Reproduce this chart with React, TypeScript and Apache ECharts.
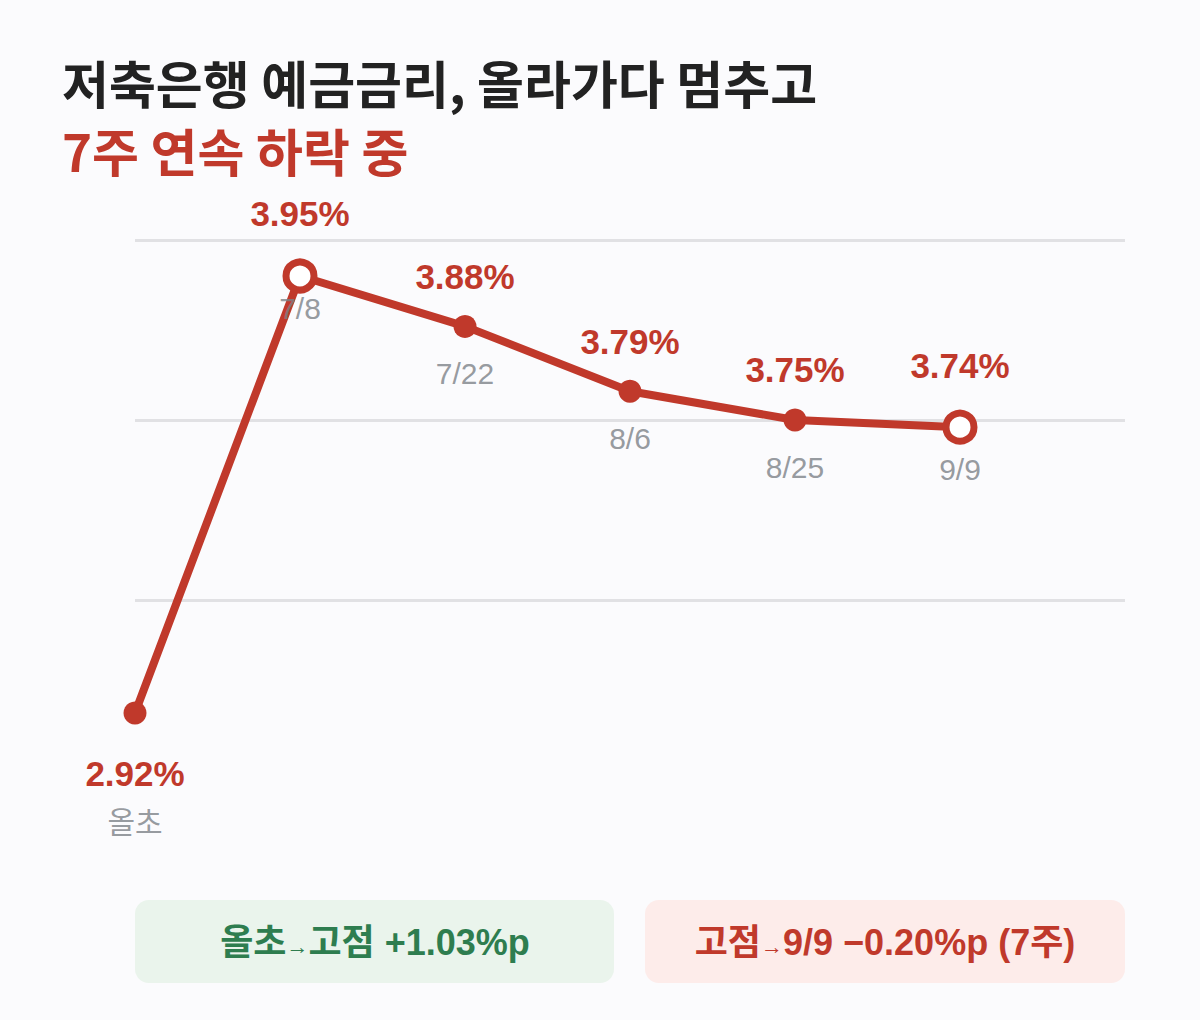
import React, { useEffect, useRef } from "react";
import * as echarts from "echarts";

const categories = ["올초", "7/8", "7/22", "8/6", "8/25", "9/9"];
const rates = [2.92, 3.95, 3.88, 3.79, 3.75, 3.74];
const gridValues = [4.0, 3.75, 3.5];
const titleLine1 = "저축은행 예금금리, 올라가다 멈추고";
const titleLine2 = "7주 연속 하락 중";
const boxLeft = ["올초", "→", "고점 +1.03%p"];
const boxRight = ["고점", "→", "9/9 −0.20%p (7주)"];

const RED = "#c0392b";
const GREEN = "#2e7d4f";
const GRAY = "#7b8187";
const KR = "'Noto Sans CJK KR', 'Liberation Sans', sans-serif";
const NUM = "'Liberation Sans', Arial, 'Noto Sans CJK KR', sans-serif";

export default function App() {
  const ref = useRef<HTMLDivElement>(null);
  useEffect(() => {
    if (!ref.current) return;
    const chart = echarts.init(ref.current, null, { renderer: "svg" });
    const maxIdx = rates.indexOf(Math.max(...rates));
    const lastIdx = rates.length - 1;
    const minIdx = rates.indexOf(Math.min(...rates));

    const lineData = rates.map((v, i) => {
      const hollow = i === maxIdx || i === lastIdx;
      const below = i === minIdx;
      return {
        value: [i, v],
        symbolSize: hollow ? 28 : 23,
        itemStyle: hollow
          ? { color: "#ffffff", borderColor: RED, borderWidth: 7 }
          : { color: RED, borderWidth: 0 },
        label: {
          position: below ? "bottom" : "top",
          distance: below ? 31 : hollow ? 27 : 21,
        },
      };
    });
    const catData = categories.map((c, i) => {
      const hollow = i === maxIdx || i === lastIdx;
      const below = i === minIdx;
      return {
        value: [i, rates[i]],
        name: c,
        label: { distance: below ? 94 : i === maxIdx ? 17 : hollow ? 27 : 32 },
      };
    });

    const boxText = (parts: string[], color: string, cx: number) => {
      return {
        type: "text",
        x: cx,
        y: 942,
        style: {
          text: `{a|${parts[0]}}{b|${parts[1]}}{a|${parts[2]}}`,
          align: "center",
          verticalAlign: "middle",
          rich: {
            a: { fontSize: 36, fontWeight: "bold", fontFamily: NUM, fill: color, color },
            b: { fontSize: 22, fontWeight: "bold", fontFamily: NUM, fill: color, color, padding: [8, 0, 0, 0] },
          },
        },
      };
    };

    chart.setOption({
      animation: false,
      backgroundColor: "#fbfbfd",
      grid: { left: 135, right: 75, top: 240, bottom: 292.6 },
      xAxis: { type: "value", min: 0, max: 6, show: false, splitLine: { show: false } },
      yAxis: {
        type: "value",
        min: 2.9,
        max: 4.0,
        show: false,
        splitLine: { show: false },
        breaks: [{ start: 2.95, end: 3.373, gap: 0 }],
        breakArea: { show: false },
      },
      graphic: [
        {
          type: "text",
          x: 62,
          y: 82,
          style: {
            text: titleLine1,
            fontSize: 51,
            fontWeight: "bold",
            fontFamily: KR,
            fill: "#222222",
            verticalAlign: "middle",
          },
        },
        {
          type: "text",
          x: 62,
          y: 150,
          style: {
            text: titleLine2,
            fontSize: 51,
            fontWeight: "bold",
            fontFamily: KR,
            fill: RED,
            verticalAlign: "middle",
          },
        },
        {
          type: "rect",
          shape: { x: 135, y: 900, width: 479, height: 83, r: 14 },
          style: { fill: "#eaf4ec" },
        },
        {
          type: "rect",
          shape: { x: 645, y: 900, width: 480, height: 83, r: 14 },
          style: { fill: "#fdecea" },
        },
        boxText(boxLeft, GREEN, 375),
        boxText(boxRight, RED, 885),
      ],
      series: [
        {
          type: "line",
          z: 3,
          data: lineData,
          symbol: "circle",
          lineStyle: { color: RED, width: 8 },
          itemStyle: { color: RED },
          label: {
            show: true,
            formatter: (p: any) => `${p.value[1].toFixed(2)}%`,
            fontSize: 35,
            fontWeight: "bold",
            fontFamily: NUM,
            color: RED,
          },
          markLine: {
            silent: true,
            symbol: "none",
            z: 1,
            label: { show: false },
            lineStyle: { color: "#e1e1e4", width: 3, type: "solid" },
            data: gridValues.map((v) => ({ yAxis: v })),
          },
        },
        {
          type: "scatter",
          z: 5,
          symbolSize: 1,
          itemStyle: { color: "rgba(0,0,0,0)" },
          data: catData,
          label: {
            show: true,
            position: "bottom",
            formatter: (p: any) => p.name,
            fontSize: 30,
            fontFamily: NUM,
            color: GRAY,
          },
        },
      ],
    });
    return () => chart.dispose();
  }, []);
  return (
    <div
      ref={ref}
      style={{ position: "fixed", left: 0, top: 0, width: 1200, height: 1020 }}
    />
  );
}
